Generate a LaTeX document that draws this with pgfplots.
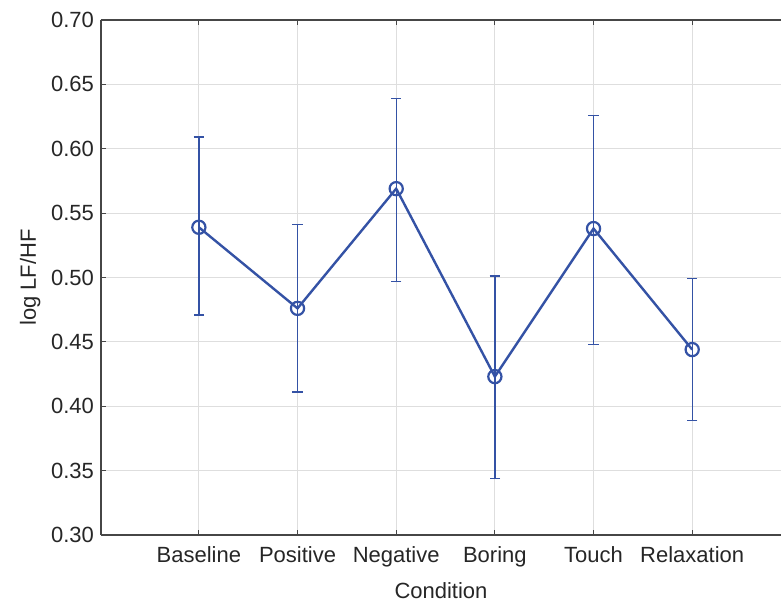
\documentclass[border=0pt]{standalone}
\usepackage{pgfplots}
\pgfplotsset{compat=1.18}
\usepackage{fontspec}
\setmainfont{Liberation Sans}
\definecolor{lineblue}{RGB}{52,82,165}
\definecolor{gridgray}{RGB}{222,222,222}
\definecolor{axgray}{RGB}{70,70,70}
\begin{document}
\begin{tikzpicture}
\begin{axis}[
  scale only axis,
  width=340pt, height=257.5pt,
  xmin=-0.992, xmax=5.9,
  ymin=0.30, ymax=0.70,
  axis x line=box,
  axis y line*=left,
  axis line style={axgray, line width=0.8pt},
  xtick={0,1,2,3,4,5},
  xticklabels={Baseline,Positive,Negative,Boring,Touch,Relaxation},
  ytick={0.30,0.35,0.40,0.45,0.50,0.55,0.60,0.65,0.70},
  yticklabel style={/pgf/number format/.cd, fixed, fixed zerofill, precision=2, assume math mode=true},
  xticklabel style={yshift=-2.5pt},
  grid=major,
  major grid style={gridgray, line width=0.6pt},
  tick style={axgray, line width=0.6pt},
  major tick length=2.5pt,
  tick label style={font=\fontsize{11}{13}\selectfont, text=black!85},
  label style={font=\fontsize{11}{13}\selectfont, text=black!85},
  xlabel={Condition},
  ylabel={log LF/HF},
  xlabel style={yshift=-0.5pt},
  ylabel style={yshift=-1.5pt},
  clip=false,
]
\addplot[
  color=lineblue, line width=1.2pt,
  mark=o, mark size=3.3pt, mark options={line width=1.1pt, solid},
  error bars/.cd, y dir=both, y explicit,
  error bar style={line width=0.7pt, color=lineblue},
  error mark options={rotate=90, mark size=2.6pt, line width=0.7pt, color=lineblue},
] table[x=x, y=y, y error plus=ep, y error minus=em] {
x y ep em
0 0.539 0.070 0.068
1 0.476 0.065 0.065
2 0.569 0.070 0.072
3 0.423 0.078 0.079
4 0.538 0.088 0.090
5 0.444 0.055 0.055
};
\end{axis}
\pgfresetboundingbox
\path ([xshift=-50.5pt, yshift=10pt]current axis.north west) rectangle ([yshift=-32.5pt]current axis.south east);
\end{tikzpicture}
\end{document}
